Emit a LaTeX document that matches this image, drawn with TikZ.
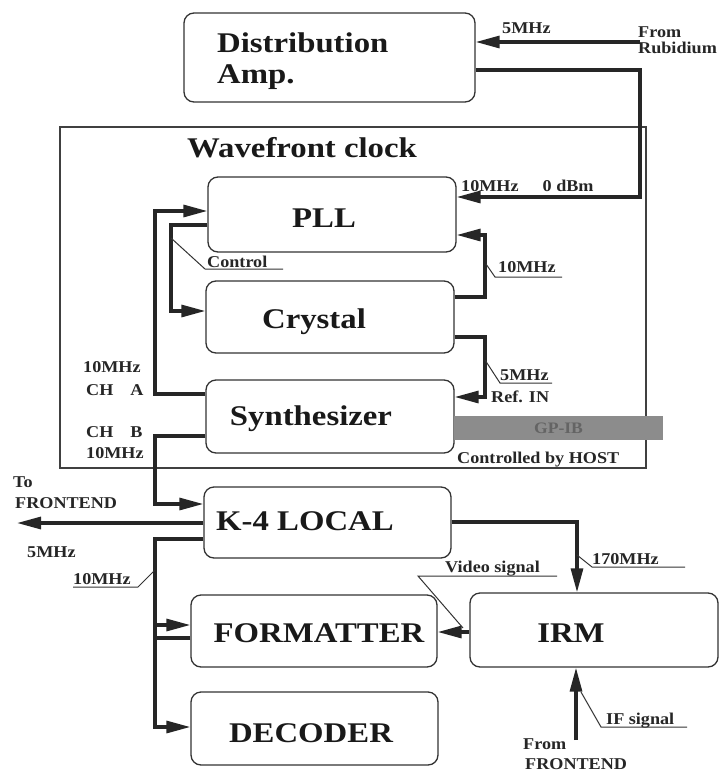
\documentclass[tikz,border=0pt]{standalone}
\usepackage{fontspec}
\setmainfont{Liberation Serif}
\newfontfamily\bigf{Liberation Serif}[FakeStretch=1.15]
\newfontfamily\smallf{Liberation Serif}[FakeStretch=1.1]
\usetikzlibrary{arrows.meta,calc}
\begin{document}
\begin{tikzpicture}[x=1pt,y=-1pt,
 box/.style={draw=black!80, line width=1.3pt, rounded corners=10pt, inner sep=0pt},
 big/.style={font={\bigf\bfseries\fontsize{28.5}{30}\selectfont}, anchor=base, inner sep=0pt, text=black!90},
 small/.style={font={\smallf\bfseries\fontsize{16.5}{18}\selectfont}, anchor=base west, inner sep=0pt, text=black!85},
 conn/.style={line width=3.2pt, draw=black!85},
 arr/.style={-{Triangle[length=24pt,width=12pt]}},
 lead/.style={line width=1pt, draw=black!80}]
\useasboundingbox (0,0) rectangle (721,774);

% outer frame
\draw[line width=1.2pt, draw=black!75] (60,127) rectangle (646,468);

% boxes
\node[box, minimum width=291pt, minimum height=89pt] (dist) at (329.5,57.5) {};
\node[box, minimum width=248pt, minimum height=75pt] (pll) at (332,214.5) {};
\node[box, minimum width=248pt, minimum height=72pt] (crystal) at (330,317) {};
\node[box, minimum width=248pt, minimum height=73pt] (synth) at (330,416.5) {};
\node[box, minimum width=247pt, minimum height=71pt] (k4) at (327.5,522.5) {};
\node[box, minimum width=246pt, minimum height=72pt] (fmt) at (314,631) {};
\node[box, minimum width=247pt, minimum height=73pt] (dec) at (314.5,728.5) {};
\node[box, minimum width=248pt, minimum height=74pt] (irm) at (594,630) {};

% GP-IB bar
\node[fill={rgb,255:red,140;green,140;blue,140}, minimum width=209pt, minimum height=24pt, inner sep=0pt,
      font={\smallf\bfseries\fontsize{16}{18}\selectfont}, text={rgb,255:red,100;green,100;blue,100}] (gp) at (558.5,428) {GP-IB};

% big labels
\node[big, anchor=base west] (distT1) at (217,52) {Distribution};
\node[big, anchor=base west] (distT2) at (217,83) {Amp.};
\node[big, anchor=base west] (wf) at (187,157) {Wavefront clock};
\node[big] (pllT) at (324,227) {PLL};
\node[big] (crT) at (314,328) {Crystal};
\node[big] (syT) at (311,425) {Synthesizer};
\node[big] (k4T) at (305,530) {K-4 LOCAL};
\node[big] (fmT) at (319,642) {FORMATTER};
\node[big] (irT) at (571,642) {IRM};
\node[big] (deT) at (311,742) {DECODER};

% small labels
\node[small] (l5top) at (502,33) {5MHz};
\node[small] (lfrom1) at (638,37) {From};
\node[small] (lrub) at (638,53) {Rubidium};
\node[small] (l10db) at (461,191) {10MHz\hspace{24pt}0 dBm};
\node[small] (lctl) at (207,267) {Control};
\node[small] (l10r) at (498,272) {10MHz};
\node[small] (l5r) at (500,380) {5MHz};
\node[small] (lref) at (491,402) {Ref. IN};
\node[small] (lhost) at (457,463) {Controlled by HOST};
\node[small] (l10a) at (83,372) {10MHz};
\node[small] (lcha) at (86,395) {CH\hspace{17pt}A};
\node[small] (lchb) at (86,437) {CH\hspace{17pt}B};
\node[small] (l10b) at (86,458) {10MHz};
\node[small] (lto) at (13,487) {To};
\node[small] (lfe1) at (15,508) {FRONTEND};
\node[small] (l5l) at (27,557) {5MHz};
\node[small] (l10l) at (73,584) {10MHz};
\node[small] (l170) at (592,564) {170MHz};
\node[small] (lvid) at (445,572) {Video signal};
\node[small] (lif) at (606,724) {IF signal};
\node[small] (lfrom2) at (523,749) {From};
\node[small] (lfe2) at (525,769) {FRONTEND};

% free ends
\coordinate (rb) at (640,42);
\coordinate (tofe) at (17,523);
\coordinate (fromfe) at (576,740);

% connectors
\draw[conn,arr] (rb) -- (dist.east |- rb);
\draw[conn,arr] (dist.east |- 0,70) -- (640,70) -- (640,197) -- (pll.east |- 0,197);
\draw[conn,arr] (synth.west |- 0,394) -- (155,394) -- (155,211) -- (pll.west |- 0,211);
\draw[conn,arr] (pll.west |- 0,225) -- (171,225) -- (171,311) -- (crystal.west |- 0,311);
\draw[conn,arr] (crystal.east |- 0,297) -- (485,297) -- (485,235) -- (pll.east |- 0,235);
\draw[conn,arr] (crystal.east |- 0,337) -- (485,337) -- (485,397) -- (synth.east |- 0,397);
\draw[conn,arr] (synth.west |- 0,436) -- (155,436) -- (155,504) -- (k4.west |- 0,504);
\draw[conn,arr] (k4.west |- tofe) -- (tofe);
\draw[conn,arr] (k4.west |- 0,539) -- (155,539) -- (155,727) -- (dec.west |- 0,727);
\draw[conn,arr] (155,625) -- (fmt.west |- 0,625);
\draw[conn] (fmt.west |- 0,638) -- (155,638);
\draw[conn,arr] (k4.east |- 0,522) -- (577,522) -- (irm.north -| 577,0);
\draw[conn,arr] (irm.west |- 0,632) -- (fmt.east |- 0,632);
\draw[conn,arr] (fromfe) -- (irm.south -| fromfe);

% leader lines
\draw[lead] (171,238) -- (205,269) -- (283,269);
\draw[lead] (486,264) -- (495,277) -- (562,277);
\draw[lead] (485,360) -- (500,383) -- (552,383);
\draw[lead] (73,587) -- (138,587) -- (155,570);
\draw[lead] (577,555) -- (592,567) -- (685,567);
\draw[lead] (557,576) -- (418,576) -- (463,628);
\draw[lead] (581,692) -- (601,727) -- (687,727);
\end{tikzpicture}
\end{document}
